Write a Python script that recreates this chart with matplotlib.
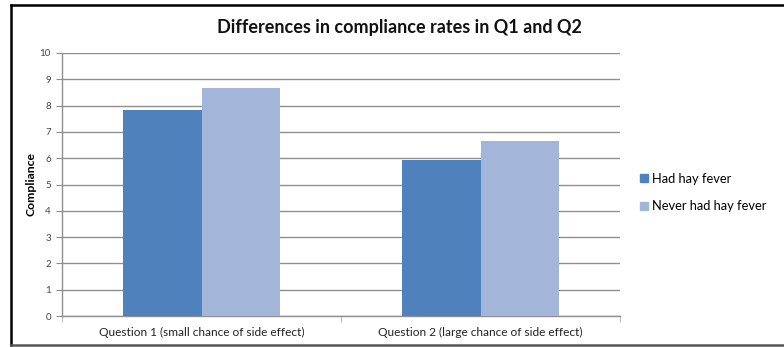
import numpy as np
import matplotlib.pyplot as plt
from matplotlib.lines import Line2D

plt.rcParams['font.family'] = ['Lato', 'DejaVu Sans']

questions = ['Question 1 (small chance of side effect)',
             'Question 2 (large chance of side effect)']
had_hay_fever = [7.84, 5.92]
never_had_hay_fever = [8.68, 6.64]
series_names = ['Had hay fever', 'Never had hay fever']
colors = ['#4F81BD', '#A3B5D8']

fig = plt.figure(figsize=(7.84, 3.47), dpi=100)

# frame around the chart: left, top and bottom edges only
L, T, B = 11/784, 1-5/347, 1-345/347
fig.add_artist(Line2D([L, L], [B, T], transform=fig.transFigure, color='black', lw=1.8))
fig.add_artist(Line2D([L, 1.0], [T, T], transform=fig.transFigure, color='black', lw=1.8))
fig.add_artist(Line2D([L, 1.0], [B, B], transform=fig.transFigure, color='#555555', lw=1.8))

ax = fig.add_axes([62/784, 1-316/347, (620-62)/784, (316-53)/347])

x = np.arange(len(questions))
w = 0.283
ax.bar(x - w/2, had_hay_fever, w, color=colors[0], label=series_names[0], zorder=3)
ax.bar(x + w/2, never_had_hay_fever, w, color=colors[1], label=series_names[1], zorder=3)

ax.set_xlim(-0.5, 1.5)
ax.set_ylim(0, 10)
ax.set_yticks(range(0, 11))
ax.yaxis.grid(True, color='#8f8f8f', lw=1.0)
ax.set_axisbelow(True)

for s in ['top', 'right']:
    ax.spines[s].set_visible(False)
for s in ['left', 'bottom']:
    ax.spines[s].set_color('#8f8f8f')
    ax.spines[s].set_linewidth(1.0)

ax.tick_params(axis='y', length=4, color='#8f8f8f', labelsize=7, labelcolor='#444444', pad=4)
ax.set_xticks([-0.5, 0.5, 1.5])
ax.set_xticklabels([])
ax.set_xticks(x, minor=True)
ax.set_xticklabels(questions, minor=True)
ax.tick_params(axis='x', which='major', length=4, color='#bbbbbb')
ax.tick_params(axis='x', which='minor', length=0, labelsize=8.6, labelcolor='#222222', pad=8)

ax.set_ylabel('Compliance', fontsize=8.8, fontweight='bold', labelpad=2)

fig.text(399.5/784, 1-27/347, 'Differences in compliance rates in Q1 and Q2',
         ha='center', va='center', fontsize=13, fontweight='bold', color='#111111')

handles = [Line2D([], [], marker='s', ls='none', markersize=5.5, color=c) for c in colors]
fig.legend(handles, series_names, loc='center left', bbox_to_anchor=(626/784, 1-192.5/347),
           frameon=False, fontsize=9.3, handletextpad=0.1, labelspacing=1.2,
           handlelength=1.0)

fig.savefig('out.png', dpi=100)
